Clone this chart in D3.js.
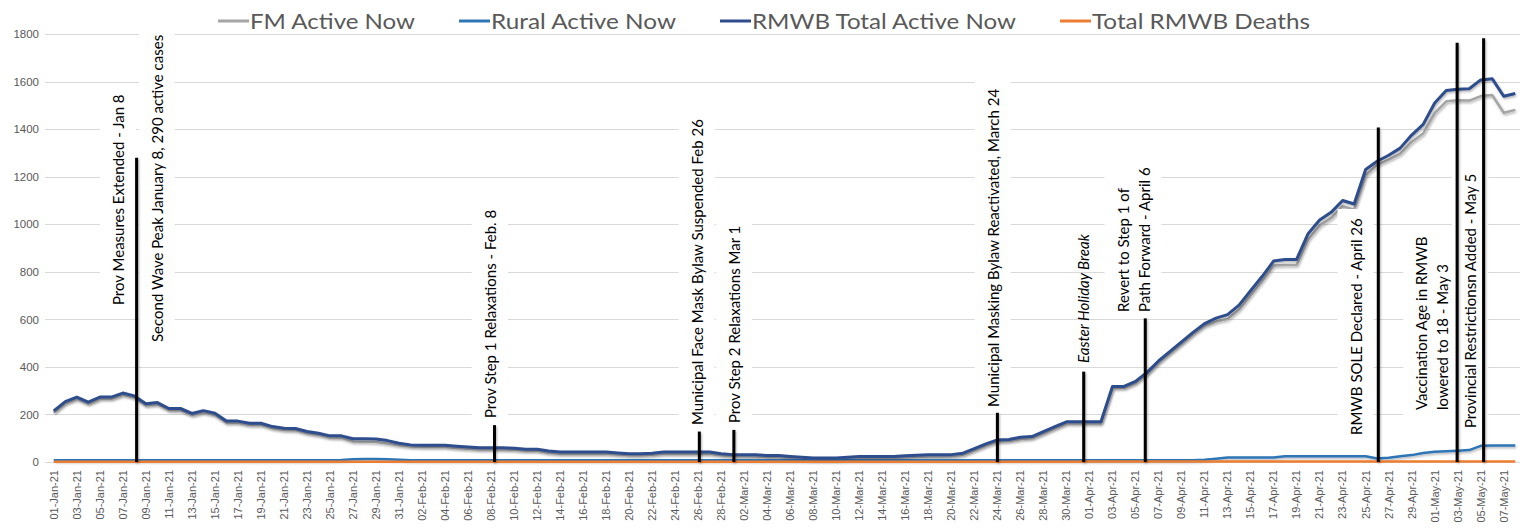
<!DOCTYPE html>
<html>
<head>
<meta charset="utf-8">
<script src="https://cdn.jsdelivr.net/npm/d3@7"></script>
<style>
  body { margin: 0; background: #fff; }
  svg { display: block; font-family: Lato, "Open Sans", sans-serif; }
</style>
</head>
<body>
<svg id="chart" width="1523" height="532"></svg>
<script>
// categories: one per day, 01-Jan-21 .. 08-May-21
var days = d3.timeDay.range(new Date(2021, 0, 1), new Date(2021, 4, 9));
var fmt = d3.timeFormat('%d-%b-%y');
var categories = days.map(fmt);

// every second day gets a tick label
var tickLabels = categories.filter(function(d, i) { return i % 2 === 0; });
var yTicks = [0, 200, 400, 600, 800, 1000, 1200, 1400, 1600, 1800];

var seriesNames = ['FM Active Now', 'Rural Active Now', 'RMWB Total Active Now', 'Total RMWB Deaths'];

var rmwbTotal = [
  // Jan
  215, 254, 273, 252, 273, 273, 290, 278, 245, 250, 225, 225, 204, 216, 205, 172,
  172, 163, 163, 149, 142, 141, 128, 121, 110, 110, 98, 98, 97, 90, 79,
  // Feb
  72, 70, 70, 70, 66, 63, 60, 60, 60, 58, 54, 54, 46, 42, 42, 42, 42, 42, 38, 35,
  35, 37, 42, 42, 42, 42, 42, 35,
  // Mar
  31, 31, 30, 27, 27, 23, 20, 17, 17, 17, 20, 23, 23, 23, 23, 26, 28, 30, 30, 31,
  37, 56, 76, 93, 95, 104, 107, 128, 149, 169, 169,
  // Apr
  169, 169, 318, 318, 339, 377, 425, 465, 505, 545, 582, 605, 620, 660, 720, 780,
  845, 852, 852, 960, 1018, 1050, 1100, 1085, 1230, 1265, 1290, 1320, 1375, 1420,
  // May
  1510, 1562, 1568, 1570, 1607, 1612, 1538, 1550
];

var fmActive = [
  208, 247, 266, 245, 266, 266, 283, 271, 238, 243, 218, 218, 197, 209, 198, 165,
  165, 156, 156, 142, 135, 134, 121, 114, 103, 102, 86, 85, 84, 78, 70,
  65, 63, 63, 63, 59, 56, 53, 53, 53, 51, 47, 47, 39, 35, 35, 35, 35, 35, 31, 28,
  28, 30, 35, 35, 35, 35, 35, 28,
  24, 24, 23, 20, 20, 16, 13, 10, 10, 10, 13, 16, 16, 16, 16, 19, 21, 23, 23, 24,
  30, 49, 69, 86, 88, 97, 100, 121, 142, 162, 162,
  162, 162, 311, 311, 332, 370, 418, 458, 498, 538, 573, 591, 601, 641, 701, 761,
  826, 828, 828, 936, 994, 1026, 1076, 1061, 1206, 1250, 1272, 1296, 1346, 1382,
  1467, 1517, 1521, 1520, 1539, 1543, 1469, 1481
];

var ruralActive = [
  7, 7, 7, 7, 7, 7, 7, 7, 7, 7, 7, 7, 7, 7, 7, 7,
  7, 7, 7, 7, 7, 7, 7, 7, 7, 8, 12, 13, 13, 12, 9,
  7, 7, 7, 7, 7, 7, 7, 7, 7, 7, 7, 7, 7, 7, 7, 7, 7, 7, 7, 7,
  7, 7, 7, 7, 7, 7, 7, 7,
  7, 7, 7, 7, 7, 7, 7, 7, 7, 7, 7, 7, 7, 7, 7, 7, 7, 7, 7, 7,
  7, 7, 7, 7, 7, 7, 7, 7, 7, 7, 7,
  7, 7, 7, 7, 7, 7, 7, 7, 7, 7, 9, 14, 19, 19, 19, 19,
  19, 24, 24, 24, 24, 24, 24, 24, 24, 15, 18, 24, 29, 38,
  43, 45, 47, 50, 68, 69, 69, 69
];

var deaths = [
  1, 1, 1, 1, 1, 1, 1, 1, 1, 1, 1, 1, 1, 1, 1, 1,
  1, 1, 1, 1, 1, 1, 1, 1, 1, 1, 1, 1, 1, 1, 1,
  1, 1, 1, 1, 1, 1, 1, 1, 1, 1, 1, 1, 1, 1, 1, 1, 1, 1, 1, 1,
  1, 1, 1, 1, 1, 1, 1, 1,
  1, 1, 1, 1, 1, 1, 1, 1, 1, 1, 1, 1, 1, 1, 1, 1, 1, 1, 1, 1,
  1, 1, 1, 1, 1, 1, 1, 1, 1, 1, 1,
  2, 2, 2, 2, 2, 2, 2, 2, 2, 2, 2, 2, 2, 2, 2, 2,
  2, 2, 2, 2, 2, 2, 2, 2, 2, 2, 2, 2, 2, 2,
  2, 2, 2, 2, 2, 2, 2, 2
];

// event notes drawn on the chart
var annotations = [
  { date: '08-Jan-21', top: null, lines: ['Prov Measures Extended - Jan 8'] },
  { date: '08-Jan-21', top: 1280, lines: ['Second Wave Peak January 8, 290 active cases'] },
  { date: '08-Feb-21', top: 155, lines: ['Prov Step 1 Relaxations - Feb. 8'] },
  { date: '26-Feb-21', top: 128, lines: ['Municipal Face Mask Bylaw Suspended Feb 26'] },
  { date: '01-Mar-21', top: 135, lines: ['Prov Step 2 Relaxations Mar 1'] },
  { date: '24-Mar-21', top: 207, lines: ['Municipal Masking Bylaw Reactivated, March 24'] },
  { date: '01-Apr-21', top: 380, lines: ['Easter Holiday Break'] },
  { date: '06-Apr-21', top: 604, lines: ['Revert to Step 1 of', 'Path Forward - April 6'] },
  { date: '26-Apr-21', top: 1407, lines: ['RMWB SOLE Declared - April 26'] },
  { date: '03-May-21', top: 1763, lines: ['Vaccination Age in RMWB', 'lowered to 18 - May 3'] },
  { date: '05-May-21', top: 1782, lines: ['Provincial Restrictionsn Added - May 5'] }
];

// where each note sits (shift in days, text offset and bottom in px)
var noteLayout = [
  { shift: 0.2, dx: -18, bottom: 305, boxed: true },
  { shift: 0.2, dx: 21, bottom: 342, boxed: true },
  { shift: 0.3, dx: -4, bottom: 418, boxed: true },
  { shift: 0.1, dx: -2, bottom: 425, boxed: true },
  { shift: 0.1, dx: 1, bottom: 423, boxed: true },
  { shift: 0, dx: -4, bottom: 407, boxed: true },
  { shift: -0.5, dx: 0, bottom: 363, boxed: false, italic: true },
  { shift: -0.15, dx: -1, bottom: 312, boxed: true },
  { shift: 0.1, dx: -22, bottom: 435, boxed: true },
  { shift: -0.05, dx: -14, bottom: 410, boxed: true },
  { shift: 0.25, dx: -13, bottom: 428, boxed: true }
];

var colors = ['#a5a5a5', '#2e75b6', '#2f4d8c', '#ed7d31'];
var series = [fmActive, ruralActive, rmwbTotal, deaths];

var svg = d3.select('#chart');

var x = d3.scaleBand()
  .domain(categories)
  .range([48, 1521]);
var step = x.step();
function cx(c) { return x(c) + step / 2; }

var y = d3.scaleLinear()
  .domain([0, 1800])
  .range([462, 34]);

// soft shadow under the lines (user space so thin vertical lines still render)
var defs = svg.append('defs');
defs.append('filter')
  .attr('id', 'shadow')
  .attr('filterUnits', 'userSpaceOnUse')
  .attr('x', 0).attr('y', 0).attr('width', 1523).attr('height', 532)
  .append('feDropShadow')
    .attr('dx', 1).attr('dy', 1.5)
    .attr('stdDeviation', 1)
    .attr('flood-color', '#000')
    .attr('flood-opacity', 0.3);

// gridlines
svg.append('g')
  .attr('class', 'grid')
  .selectAll('line')
  .data(yTicks)
  .enter()
    .append('line')
      .attr('x1', 45)
      .attr('x2', 1520)
      .attr('y1', function(d) { return Math.round(y(d)) + 0.5; })
      .attr('y2', function(d) { return Math.round(y(d)) + 0.5; })
      .attr('stroke', '#d9d9d9')
      .attr('stroke-width', 1);

// y axis
var yAxis = svg.append('g')
  .attr('transform', 'translate(39,0)')
  .call(d3.axisLeft(y).tickValues(yTicks).tickFormat(d3.format('d')).tickSize(0).tickPadding(0));
yAxis.select('.domain').remove();
yAxis.selectAll('text')
  .attr('fill', '#595959')
  .style('font-size', '11.5px');

// x axis
var xAxis = svg.append('g')
  .attr('transform', 'translate(0,462)')
  .call(d3.axisBottom(x).tickValues(tickLabels).tickSize(0).tickPadding(0));
xAxis.select('.domain').remove();
xAxis.selectAll('text')
  .attr('fill', '#595959')
  .style('font-size', '11px')
  .attr('text-anchor', 'end')
  .attr('transform', 'translate(0,8) rotate(-90)')
  .attr('x', 0)
  .attr('y', 0)
  .attr('dy', '0.35em');

// series lines
var line = d3.line()
  .x(function(d, i) { return cx(categories[i]); })
  .y(function(d) { return y(d); });

svg.append('g')
  .selectAll('path.series')
  .data(series)
  .enter()
    .append('path')
      .attr('class', 'series')
      .attr('d', line)
      .attr('fill', 'none')
      .attr('stroke', function(d, i) { return colors[i]; })
      .attr('stroke-width', function(d, i) { return i === 2 ? 3 : 2.5; })
      .attr('stroke-linejoin', 'round')
      .attr('filter', function(d, i) { return i === 3 ? null : 'url(#shadow)'; });

// annotations: white text boxes, black marker lines, rotated notes
var notes = svg.append('g').attr('class', 'notes');
var lineLayer = svg.append('g').attr('class', 'note-lines');

annotations.forEach(function(a, idx) {
  var lay = noteLayout[idx];
  var lx = cx(a.date) + lay.shift * step;
  var g = notes.append('g');
  var n = a.lines.length;
  g.selectAll('text')
    .data(a.lines)
    .enter()
      .append('text')
        .attr('transform', function(d, k) {
          var tx = lx + lay.dx - (n - 1 - k) * 21;
          return 'translate(' + tx + ',' + lay.bottom + ') rotate(-90)';
        })
        .attr('dy', '0.35em')
        .attr('fill', '#000')
        .style('font-size', '15px')
        .style('font-style', lay.italic ? 'italic' : 'normal')
        .text(function(d) { return d; });
  if (lay.boxed) {
    var bb = g.node().getBBox();
    g.insert('rect', 'text')
      .attr('x', bb.x - 9)
      .attr('y', bb.y - 9)
      .attr('width', bb.width + 18)
      .attr('height', bb.height + 16)
      .attr('fill', '#fff');
  }
  if (a.top !== null) {
    lineLayer.append('line')
      .attr('x1', lx).attr('x2', lx)
      .attr('y1', y(a.top)).attr('y2', y(0))
      .attr('stroke', '#000')
      .attr('stroke-width', 3)
      .attr('filter', 'url(#shadow)');
  }
});
// marker lines sit above the white boxes
lineLayer.raise();

// legend
var legendTargets = [165, 185, 264, 218];
var legend = svg.append('g').attr('class', 'legend');
var lxPos = 218;
seriesNames.forEach(function(name, i) {
  legend.append('line')
    .attr('x1', lxPos).attr('x2', lxPos + 31)
    .attr('y1', 21).attr('y2', 21)
    .attr('stroke', colors[i])
    .attr('stroke-width', 3);
  legend.append('text')
    .attr('x', lxPos + 32)
    .attr('y', 21)
    .attr('dy', '0.35em')
    .attr('fill', '#595959')
    .style('font-size', '22px')
    .attr('textLength', legendTargets[i])
    .attr('lengthAdjust', 'spacingAndGlyphs')
    .text(name);
  lxPos += 32 + legendTargets[i] + 44;
});
</script>
</body>
</html>
